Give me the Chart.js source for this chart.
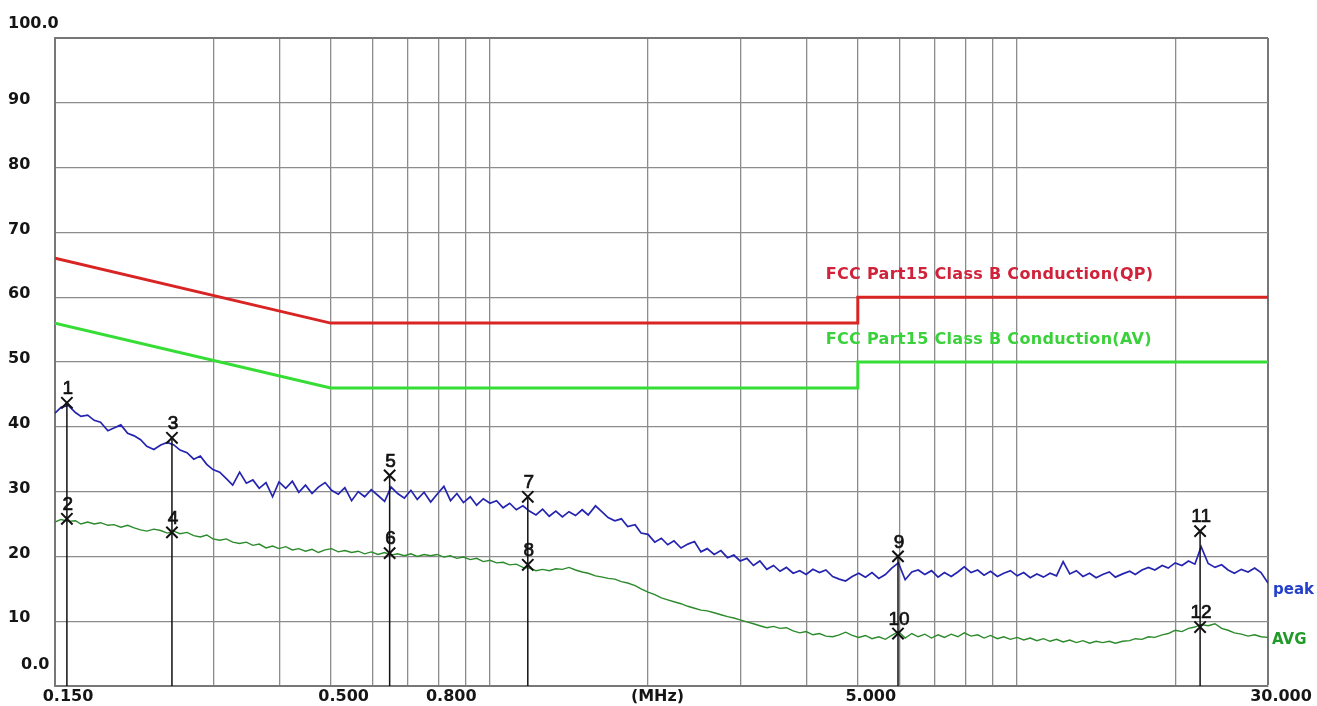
<!DOCTYPE html>
<html>
<head>
<meta charset="utf-8">
<title>Conducted emission - FCC Part15 Class B</title>
<script src="https://cdn.jsdelivr.net/npm/chart.js@4.4.1/dist/chart.umd.min.js"></script>
<style>
  html, body { margin: 0; padding: 0; background: #fff; }
  canvas { display: block; }
</style>
</head>
<body>
<canvas id="emi" width="1317" height="706"></canvas>
<script>
// sweep frequencies (MHz)
const freqs = [
    0.150,0.154,0.159,0.164,0.168,0.173,0.178,0.183,0.189,0.194,
    0.200,0.206,0.212,0.218,0.224,0.231,0.238,0.245,0.252,0.259,
    0.267,0.275,0.283,0.291,0.299,0.308,0.317,0.326,0.336,0.346,
    0.356,0.366,0.377,0.388,0.399,0.411,0.423,0.435,0.448,0.461,
    0.474,0.488,0.502,0.517,0.532,0.548,0.564,0.580,0.597,0.615,
    0.633,0.651,0.670,0.690,0.710,0.730,0.752,0.774,0.796,0.820,
    0.844,0.868,0.893,0.920,0.946,0.974,1.003,1.032,1.062,1.093,
    1.125,1.158,1.191,1.226,1.262,1.299,1.337,1.376,1.416,1.457,
    1.50,1.54,1.59,1.64,1.68,1.73,1.78,1.83,1.89,1.94,
    2.00,2.06,2.12,2.18,2.24,2.31,2.38,2.45,2.52,2.59,
    2.67,2.75,2.83,2.91,2.99,3.08,3.17,3.26,3.36,3.46,
    3.56,3.66,3.77,3.88,3.99,4.11,4.23,4.35,4.48,4.61,
    4.74,4.88,5.02,5.17,5.32,5.48,5.64,5.80,5.97,6.15,
    6.33,6.51,6.70,6.90,7.10,7.30,7.52,7.74,7.96,8.20,
    8.44,8.68,8.93,9.20,9.46,9.74,10.03,10.32,10.62,10.93,
    11.25,11.58,11.91,12.26,12.62,12.99,13.37,13.76,14.16,14.57,
    15.0,15.4,15.9,16.4,16.8,17.3,17.8,18.3,18.9,19.4,
    20.0,20.6,21.2,21.8,22.4,23.1,23.8,24.5,25.2,25.9,
    26.7,27.5,28.3,29.1,30.0
];

// peak detector trace (dBuV)
const peakVals = [
    42.1,43.0,43.3,42.2,41.6,41.8,41.0,40.7,39.4,39.8,
    40.3,39.0,38.6,38.0,37.0,36.5,37.2,37.6,37.2,36.4,
    36.0,35.0,35.5,34.2,33.4,33.0,32.0,31.0,33.0,31.3,
    31.8,30.5,31.4,29.2,31.5,30.5,31.6,29.9,31.0,29.7,
    30.7,31.4,30.2,29.6,30.6,28.6,30.0,29.2,30.3,29.4,
    28.5,30.7,29.7,29.0,30.2,28.8,29.9,28.4,29.6,30.8,
    28.6,29.7,28.3,29.2,27.9,28.9,28.2,28.6,27.5,28.2,
    27.2,27.8,27.0,26.4,27.3,26.2,27.0,26.1,26.9,26.3,
    27.2,26.4,27.8,26.8,26.0,25.5,25.8,24.6,24.9,23.6,
    23.4,22.2,22.8,21.8,22.4,21.3,21.9,22.3,20.7,21.2,
    20.3,20.9,19.8,20.2,19.3,19.7,18.6,19.3,18.0,18.6,
    17.7,18.3,17.4,17.8,17.2,18.0,17.5,17.9,16.9,16.5,
    16.2,16.9,17.4,16.8,17.5,16.6,17.2,18.2,19.0,16.4,
    17.6,17.9,17.2,17.8,16.8,17.5,16.9,17.6,18.4,17.5,
    17.9,17.1,17.7,16.9,17.4,17.8,17.0,17.5,16.7,17.3,
    16.8,17.4,17.0,19.2,17.3,17.8,16.9,17.4,16.7,17.2,
    17.6,16.8,17.3,17.7,17.2,17.9,18.3,17.9,18.6,18.2,
    19.0,18.6,19.3,18.8,21.5,18.9,18.3,18.7,17.9,17.4,
    18.0,17.6,18.2,17.5,15.9
];

// average detector trace (dBuV)
const avgVals = [
    25.3,25.7,25.4,25.5,25.0,25.3,25.0,25.2,24.8,24.9,
    24.5,24.8,24.4,24.1,23.9,24.2,24.0,23.6,23.9,23.5,
    23.7,23.2,23.0,23.3,22.7,22.5,22.7,22.2,22.0,22.2,
    21.7,21.9,21.3,21.6,21.2,21.5,21.0,21.2,20.8,21.1,
    20.6,21.0,21.2,20.7,20.9,20.6,20.8,20.4,20.7,20.3,
    20.6,20.2,20.4,20.1,20.4,20.0,20.3,20.1,20.3,19.9,
    20.1,19.7,19.9,19.5,19.7,19.2,19.4,19.0,19.1,18.7,
    18.8,18.3,18.2,17.8,18.0,17.8,18.1,18.0,18.3,17.9,
    17.6,17.4,17.0,16.8,16.6,16.5,16.1,15.9,15.5,15.0,
    14.5,14.1,13.6,13.3,13.0,12.7,12.3,12.0,11.7,11.6,
    11.3,11.0,10.7,10.5,10.2,9.9,9.6,9.3,9.0,9.2,
    8.9,9.0,8.5,8.2,8.4,7.9,8.1,7.7,7.6,7.9,
    8.3,7.8,7.5,7.8,7.3,7.6,7.2,7.8,8.4,7.4,
    8.1,7.6,8.0,7.4,7.9,7.5,8.0,7.6,8.2,7.7,
    7.9,7.4,7.8,7.3,7.6,7.2,7.5,7.1,7.4,7.0,
    7.3,6.9,7.2,6.8,7.1,6.7,7.0,6.6,6.9,6.7,
    6.9,6.6,6.9,7.0,7.3,7.2,7.6,7.5,7.9,8.1,
    8.6,8.4,8.9,9.1,9.5,9.3,9.6,8.9,8.6,8.2,
    8.0,7.7,7.9,7.6,7.5
];

// limit lines
const qpLimitFreqs = [0.15, 0.5, 5, 5, 30];
const qpLimitVals = [66, 56, 56, 60, 60];
const avLimitFreqs = [0.15, 0.5, 5, 5, 30];
const avLimitVals = [56, 46, 46, 50, 50];
const limitNames = ['FCC Part15 Class B Conduction(QP)', 'FCC Part15 Class B Conduction(AV)'];

// measured points
const markerNums = ['1','2','3','4','5','6','7','8','9','10','11','12'];
const markerFreqs = [0.158, 0.158, 0.250, 0.250, 0.647, 0.647, 1.183, 1.183, 5.96, 5.96, 22.3, 22.3];
const markerVals = [43.7, 25.8, 38.3, 23.7, 32.5, 20.5, 29.2, 18.7, 20.0, 8.1, 23.9, 9.1];

// axes
const xGridFreqs = [0.15, 0.3, 0.4, 0.5, 0.6, 0.7, 0.8, 0.9, 1, 2, 3, 4, 5, 6, 7, 8, 9, 10, 20, 30];
const xTickVals = [0.15, 0.5, 0.8, 5, 30];
const xTickText = ['0.150', '0.500', '0.800', '5.000', '30.000'];
const xUnit = '(MHz)';
const yTickVals = [0, 10, 20, 30, 40, 50, 60, 70, 80, 90, 100];
const yTickText = ['0.0', '10', '20', '30', '40', '50', '60', '70', '80', '90', '100.0'];

function pairs(xs, ys) {
    return xs.map((f, i) => ({ x: f, y: ys[i] }));
}

// vertical stems from each peak marker down to the bottom
var stems = [];
for (var i = 0; i < markerFreqs.length; i += 2) {
    stems.push({ x: markerFreqs[i], y: markerVals[i] });
    stems.push({ x: markerFreqs[i], y: 0 });
    stems.push({ x: markerFreqs[i], y: null });
}

const FONT = '"DejaVu Sans", "Liberation Sans", sans-serif';

const textPlugin = {
    id: 'emiText',
    afterDraw(chart) {
        const ctx = chart.ctx;
        const area = chart.chartArea;
        const x = chart.scales.x;
        const y = chart.scales.y;
        ctx.save();

        // axis labels
        ctx.fillStyle = '#151515';
        ctx.font = 'bold 16px ' + FONT;
        ctx.textBaseline = 'middle';
        ctx.textAlign = 'left';
        yTickVals.forEach((v, i) => {
            let py = y.getPixelForValue(v) - 3;
            let px = 8;
            if (v === 100) py = y.getPixelForValue(v) - 14;
            if (v === 0) { py = y.getPixelForValue(v) - 21; px = 21; }
            ctx.fillText(yTickText[i], px, py);
        });
        ctx.textAlign = 'center';
        const ly = area.bottom + 11;
        xTickVals.forEach((v, i) => {
            ctx.fillText(xTickText[i], x.getPixelForValue(v) + 13, ly);
        });
        ctx.fillText(xUnit, (area.left + area.right) / 2 - 4, ly);

        // limit names
        ctx.textAlign = 'left';
        ctx.letterSpacing = '0.3px';
        ctx.fillStyle = '#d0223a';
        ctx.fillText(limitNames[0], x.getPixelForValue(5) - 32, y.getPixelForValue(qpLimitVals[4]) - 22);
        ctx.fillStyle = '#3ad23a';
        ctx.fillText(limitNames[1], x.getPixelForValue(5) - 32, y.getPixelForValue(avLimitVals[4]) - 22);
        ctx.letterSpacing = '0px';

        // trace names
        ctx.font = 'bold 15px ' + FONT;
        ctx.fillStyle = '#2440c8';
        ctx.fillText('peak', area.right + 5, y.getPixelForValue(peakVals[peakVals.length - 1]) + 7);
        ctx.fillStyle = '#229a2a';
        ctx.fillText('AVG', area.right + 4, y.getPixelForValue(avgVals[avgVals.length - 1]) + 3);

        // marker numbers
        ctx.fillStyle = '#111';
        ctx.strokeStyle = '#111';
        ctx.lineWidth = 0.7;
        ctx.font = '19px "Liberation Sans", Arial, sans-serif';
        ctx.textAlign = 'center';
        chart.getDatasetMeta(0).data.forEach((pt, i) => {
            ctx.fillText(markerNums[i], pt.x + 1, pt.y - 14);
            ctx.strokeText(markerNums[i], pt.x + 1, pt.y - 14);
        });
        ctx.restore();
    }
};

var emiConfig = {
    type: 'line',
    data: {
        datasets: [
            {
                label: 'markers',
                data: pairs(markerFreqs, markerVals),
                showLine: false,
                pointStyle: 'crossRot',
                pointRadius: 8,
                pointBorderColor: '#111',
                pointBorderWidth: 2
            },
            {
                label: 'stems',
                data: stems,
                borderColor: '#111',
                borderWidth: 1.5,
                pointRadius: 0,
                spanGaps: false
            },
            {
                label: 'peak',
                data: pairs(freqs, peakVals),
                borderColor: '#2424b0',
                borderWidth: 1.7,
                pointRadius: 0
            },
            {
                label: 'AVG',
                data: pairs(freqs, avgVals),
                borderColor: '#2b8a2b',
                borderWidth: 1.4,
                pointRadius: 0
            },
            {
                label: limitNames[0],
                data: pairs(qpLimitFreqs, qpLimitVals),
                borderColor: '#d92424',
                borderWidth: 3,
                pointRadius: 0
            },
            {
                label: limitNames[1],
                data: pairs(avLimitFreqs, avLimitVals),
                borderColor: '#35dd35',
                borderWidth: 3,
                pointRadius: 0
            }
        ]
    },
    options: {
        responsive: false,
        animation: false,
        layout: { padding: { left: 55, right: 49, top: 38, bottom: 20 } },
        plugins: {
            legend: { display: false },
            tooltip: { enabled: false }
        },
        elements: { line: { tension: 0 } },
        scales: {
            x: {
                type: 'logarithmic',
                min: 0.15,
                max: 30,
                afterBuildTicks: (scale) => {
                    scale.ticks = xGridFreqs.map(v => ({ value: v }));
                },
                ticks: { display: false },
                grid: {
                    drawTicks: false,
                    color: (c) => (c.tick && c.tick.value === 30) ? '#777' : '#8c8c8c',
                    lineWidth: (c) => (c.tick && c.tick.value === 30) ? 2 : 1.3
                },
                border: { color: '#777', width: 2 }
            },
            y: {
                min: 0,
                max: 100,
                ticks: { display: false, stepSize: 10 },
                grid: {
                    drawTicks: false,
                    color: (c) => (c.tick && c.tick.value === 100) ? '#777' : '#8c8c8c',
                    lineWidth: (c) => (c.tick && c.tick.value === 100) ? 2 : 1.3
                },
                border: { color: '#777', width: 2 }
            }
        }
    },
    plugins: [textPlugin]
};

window.emiChart = new Chart(document.getElementById('emi').getContext('2d'), emiConfig);
</script>
</body>
</html>
